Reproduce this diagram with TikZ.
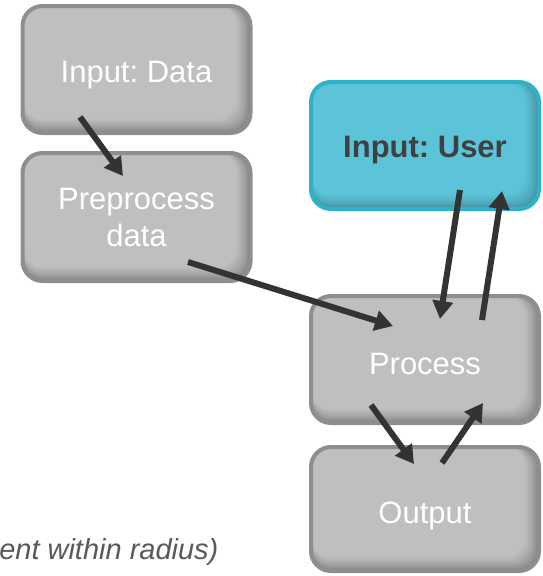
\documentclass[tikz,border=0pt]{standalone}
\usepackage{fontspec}
\setmainfont{Liberation Sans}
\usetikzlibrary{arrows.meta}
\frenchspacing

\definecolor{greyfill}{HTML}{BFBFBF}
\definecolor{greyline}{HTML}{8E8E8E}
\definecolor{greydark}{HTML}{777777}
\definecolor{tealfill}{HTML}{5BC4D8}
\definecolor{tealline}{HTML}{2FB1C9}
\definecolor{tealdark}{HTML}{3E8794}
\definecolor{arrowc}{HTML}{333333}
\definecolor{labeldark}{HTML}{404040}
\definecolor{notegrey}{HTML}{595959}

% lower a label without changing the size the node sees
\newcommand{\lowerby}[2]{\raisebox{-#1}[\height][\depth]{#2}}

\tikzset{
  % rounded box with an inner shadow along its right and bottom edges
  shadowbox/.style n args={3}{
    rounded corners=20pt, inner sep=0pt, line width=4pt,
    minimum width=228pt, minimum height=127pt, align=center,
    fill=#1, draw=#2,
    path picture={
      \foreach \d in {0,...,14}{
        \pgfmathsetmacro\pct{100*(\d/14)^0.6}
        \fill[#1!\pct!#3, rounded corners=20pt]
          (path picture bounding box.north west) rectangle
          ([xshift=-\d pt, yshift=\d pt]path picture bounding box.south east);
      }
    }
  },
  greybox/.style={shadowbox={greyfill}{greyline}{greydark},
    text=white, font=\fontsize{31}{37}\selectfont},
  tealbox/.style={shadowbox={tealfill}{tealline}{tealdark},
    text=labeldark, font=\bfseries\fontsize{31}{37}\selectfont},
  flow/.style={draw=arrowc, line width=6pt,
    -{Triangle[length=18pt,width=20pt]}},
}

\begin{document}
\begin{tikzpicture}[x=1pt,y=-1pt]
  \useasboundingbox (0,0) rectangle (543,576);

  \node[greybox] (data) at (136.5,69.5) {\lowerby{6pt}{Input: Data}};
  \node[greybox, minimum height=128pt] (pre) at (136.5,217) {Preprocess\\data};
  \node[tealbox] (user) at (425,145.5) {\lowerby{5pt}{Input: User}};
  \node[greybox] (proc) at (425,359.5) {\lowerby{4pt}{Process}};
  \node[greybox, minimum height=124pt] (out) at (425,509) {\lowerby{7pt}{Output}};

  \node[anchor=base east, text=notegrey, font=\itshape\fontsize{29}{34}\selectfont]
    (note) at (222,559) {ent within radius)};

  \draw[flow] ([shift={(-56.5,47.5)}]data.center) -- ([shift={(-13.5,-41)}]pre.center);
  \draw[flow] ([shift={(51.5,45)}]pre.center) -- ([shift={(-32,-33.5)}]proc.center);
  \draw[flow] ([shift={(35,44.5)}]user.center) -- ([shift={(15,-40.5)}]proc.center);
  \draw[flow] ([shift={(57,-39.5)}]proc.center) -- ([shift={(77,45.5)}]user.center);
  \draw[flow] ([shift={(-54,45.5)}]proc.center) -- ([shift={(-11,-45)}]out.center);
  \draw[flow] ([shift={(17,-46)}]out.center) -- ([shift={(58,43.5)}]proc.center);
\end{tikzpicture}
\end{document}
